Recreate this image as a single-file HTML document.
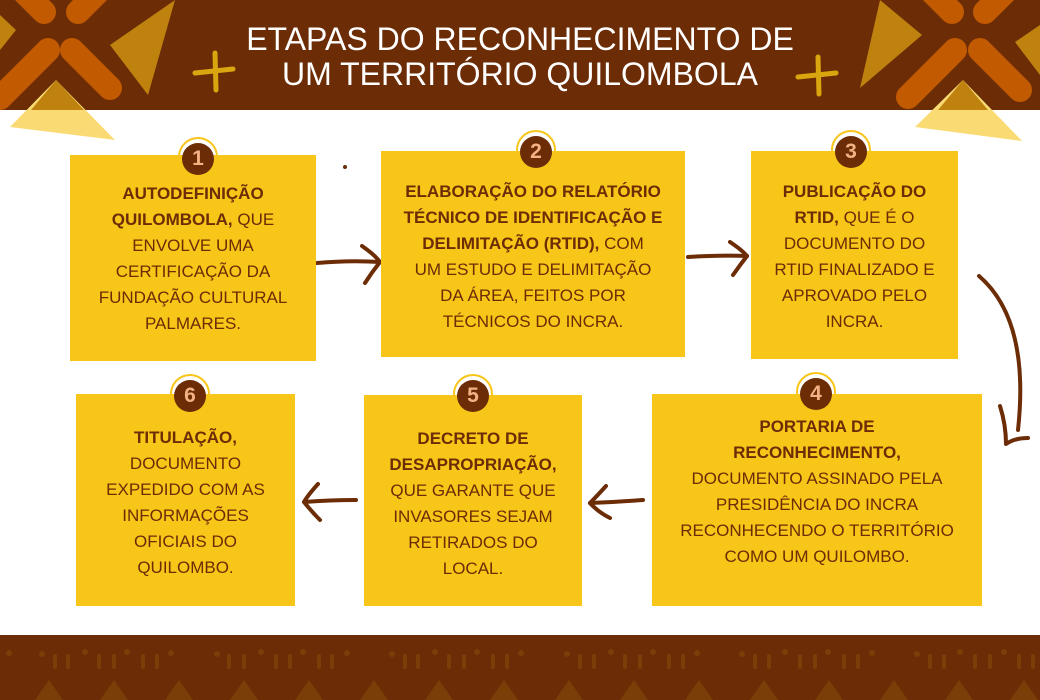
<!DOCTYPE html>
<html><head><meta charset="utf-8"><style>
body{margin:0;width:1040px;height:700px;overflow:hidden;background:#fff;font-family:"Liberation Sans",sans-serif;position:relative}
.box{position:absolute;background:#F8C519;color:#6B2C06;font-size:17px;line-height:26px;text-align:center;box-sizing:border-box;white-space:nowrap}
.box b{font-weight:bold}
.badge{position:absolute;width:32px;height:32px;border-radius:50%;background:#6B2C06;color:#F4B183;font-weight:bold;font-size:21px;line-height:32px;text-align:center;z-index:3}
.ring{position:absolute;width:40px;height:40px;border-radius:50%;border:2px solid #F8C519;box-sizing:border-box;z-index:0}
.title{position:absolute;left:0;width:1040px;top:22px;text-align:center;color:#fff;font-size:32px;line-height:35px;z-index:2}
</style></head><body>
<svg width="1040" height="700" style="position:absolute;left:0;top:0;z-index:1" xmlns="http://www.w3.org/2000/svg">
<rect x="0" y="0" width="1040" height="110" fill="#6B2C06"/>
<g stroke="#C25A02" stroke-width="24" stroke-linecap="round">
<line x1="22" y1="-10" x2="44" y2="12"/><line x1="78" y1="12" x2="100" y2="-10"/>
<line x1="48" y1="50" x2="0" y2="98"/><line x1="72" y1="50" x2="110" y2="88"/>
<line x1="930" y1="-10" x2="952" y2="12"/><line x1="985" y1="12" x2="1007" y2="-10"/>
<line x1="955" y1="50" x2="908" y2="97"/><line x1="980" y1="50" x2="1020" y2="90"/>
</g>
<g fill="#BF820F">
<path d="M175 0 L148 95 L110 45 Z"/><path d="M0 15 L16 30 L0 50 Z"/>
<path d="M880 0 L860 88 L922 35 Z"/><path d="M1040 25 L1015 42 L1040 75 Z"/>
</g>
<path d="M56 80 L10 127 L115 140 Z" fill="#FADB73"/>
<path d="M963 80 L915 127 L1022 141 Z" fill="#FADB73"/>
<path d="M56 80 L31 110 L84 110 Z" fill="#BF820F"/>
<path d="M963 80 L938 110 L988 110 Z" fill="#BF820F"/>
<g stroke="#D9A610" stroke-width="5" stroke-linecap="round">
<line x1="195" y1="73" x2="233" y2="69"/><line x1="215" y1="53" x2="216" y2="90"/>
<line x1="798" y1="77" x2="836" y2="73"/><line x1="818" y1="57" x2="819" y2="94"/>
</g>
<rect x="0" y="635" width="1040" height="65" fill="#6B2C06"/>
<g fill="#7A3F08">
<path d="M35 700 L49 680 L63 700Z"/><path d="M100 700 L114 680 L128 700Z"/><path d="M165 700 L179 680 L193 700Z"/><path d="M230 700 L244 680 L258 700Z"/><path d="M295 700 L309 680 L323 700Z"/><path d="M360 700 L374 680 L388 700Z"/><path d="M425 700 L439 680 L453 700Z"/><path d="M490 700 L504 680 L518 700Z"/><path d="M555 700 L569 680 L583 700Z"/><path d="M620 700 L634 680 L648 700Z"/><path d="M685 700 L699 680 L713 700Z"/><path d="M750 700 L764 680 L778 700Z"/><path d="M815 700 L829 680 L843 700Z"/><path d="M880 700 L894 680 L908 700Z"/><path d="M945 700 L959 680 L973 700Z"/><path d="M1010 700 L1024 680 L1038 700Z"/>
</g>
<g stroke="#7A3F08" stroke-width="4" stroke-linecap="round">
<line x1="55" y1="656" x2="55" y2="667"/><line x1="68" y1="656" x2="68" y2="667"/><line x1="99" y1="656" x2="99" y2="667"/><line x1="114" y1="656" x2="114" y2="667"/><line x1="143" y1="656" x2="143" y2="667"/><line x1="157" y1="656" x2="157" y2="667"/>
<line x1="229" y1="656" x2="229" y2="667"/><line x1="244" y1="656" x2="244" y2="667"/><line x1="276" y1="656" x2="276" y2="667"/><line x1="290" y1="656" x2="290" y2="667"/><line x1="319" y1="656" x2="319" y2="667"/><line x1="332" y1="656" x2="332" y2="667"/>
<line x1="405" y1="656" x2="405" y2="667"/><line x1="418" y1="656" x2="418" y2="667"/><line x1="449" y1="656" x2="449" y2="667"/><line x1="464" y1="656" x2="464" y2="667"/><line x1="493" y1="656" x2="493" y2="667"/><line x1="507" y1="656" x2="507" y2="667"/>
<line x1="580" y1="656" x2="580" y2="667"/><line x1="594" y1="656" x2="594" y2="667"/><line x1="625" y1="656" x2="625" y2="667"/><line x1="640" y1="656" x2="640" y2="667"/><line x1="669" y1="656" x2="669" y2="667"/><line x1="683" y1="656" x2="683" y2="667"/>
<line x1="755" y1="656" x2="755" y2="667"/><line x1="769" y1="656" x2="769" y2="667"/><line x1="800" y1="656" x2="800" y2="667"/><line x1="815" y1="656" x2="815" y2="667"/><line x1="844" y1="656" x2="844" y2="667"/><line x1="858" y1="656" x2="858" y2="667"/>
<line x1="930" y1="656" x2="930" y2="667"/><line x1="944" y1="656" x2="944" y2="667"/><line x1="975" y1="656" x2="975" y2="667"/><line x1="990" y1="656" x2="990" y2="667"/><line x1="1019" y1="656" x2="1019" y2="667"/><line x1="1033" y1="656" x2="1033" y2="667"/>
</g>
<g fill="#7A3F08">
<circle cx="9" cy="653" r="3"/><circle cx="42" cy="654" r="3"/><circle cx="85" cy="652" r="3"/><circle cx="127" cy="652" r="3"/><circle cx="171" cy="653" r="3"/>
<circle cx="217" cy="654" r="3"/><circle cx="261" cy="652" r="3"/><circle cx="303" cy="652" r="3"/><circle cx="347" cy="653" r="3"/>
<circle cx="392" cy="654" r="3"/><circle cx="435" cy="652" r="3"/><circle cx="477" cy="652" r="3"/><circle cx="521" cy="653" r="3"/>
<circle cx="567" cy="654" r="3"/><circle cx="611" cy="652" r="3"/><circle cx="653" cy="652" r="3"/><circle cx="697" cy="653" r="3"/>
<circle cx="742" cy="654" r="3"/><circle cx="785" cy="652" r="3"/><circle cx="828" cy="652" r="3"/><circle cx="872" cy="653" r="3"/>
<circle cx="917" cy="654" r="3"/><circle cx="960" cy="652" r="3"/><circle cx="1004" cy="652" r="3"/>
</g>
<circle cx="345" cy="167" r="2" fill="#6B2C06"/>
<g stroke="#6B2C06" stroke-width="4" fill="none" stroke-linecap="round" stroke-linejoin="round">
<path d="M317 263 Q350 260 380 262"/><path d="M362 246 Q375 255 380 262 Q372 272 365 283"/>
<path d="M688 257 Q720 255 747 256"/><path d="M730 242 Q742 250 747 256 Q740 265 733 275"/>
<path d="M979 276 Q1030 320 1018 430"/><path d="M1000 406 Q1006 425 1006 444 Q1015 438 1028 438"/>
<path d="M643 500 Q615 502 590 503"/><path d="M606 486 Q596 497 590 503 Q598 512 610 518"/>
<path d="M356 500 Q330 500 304 502"/><path d="M318 484 Q308 495 304 502 Q312 512 320 520"/>
</g>
</svg>
<div class="title">ETAPAS DO RECONHECIMENTO DE<br>UM TERRITÓRIO QUILOMBOLA</div>

<div class="ring" style="left:178px;top:137px"></div><div class="badge" style="left:182px;top:143px">1</div>
<div class="box" style="left:70px;top:155px;width:246px;height:206px;z-index:2;padding-top:26px"><b>AUTODEFINIÇÃO</b><br><b>QUILOMBOLA,</b> QUE<br>ENVOLVE UMA<br>CERTIFICAÇÃO DA<br>FUNDAÇÃO CULTURAL<br>PALMARES.</div>

<div class="ring" style="left:516px;top:130px"></div><div class="badge" style="left:520px;top:136px">2</div>
<div class="box" style="left:381px;top:151px;width:304px;height:206px;z-index:2;padding-top:28px"><b>ELABORAÇÃO DO RELATÓRIO</b><br><b>TÉCNICO DE IDENTIFICAÇÃO E</b><br><b>DELIMITAÇÃO (RTID),</b> COM<br>UM ESTUDO E DELIMITAÇÃO<br>DA ÁREA, FEITOS POR<br>TÉCNICOS DO INCRA.</div>

<div class="ring" style="left:831px;top:130px"></div><div class="badge" style="left:835px;top:136px">3</div>
<div class="box" style="left:751px;top:151px;width:207px;height:208px;z-index:2;padding-top:28px"><b>PUBLICAÇÃO DO</b><br><b>RTID,</b> QUE É O<br>DOCUMENTO DO<br>RTID FINALIZADO E<br>APROVADO PELO<br>INCRA.</div>

<div class="ring" style="left:796px;top:372px"></div><div class="badge" style="left:800px;top:378px">4</div>
<div class="box" style="left:652px;top:394px;width:330px;height:212px;z-index:2;padding-top:20px"><b>PORTARIA DE</b><br><b>RECONHECIMENTO,</b><br>DOCUMENTO ASSINADO PELA<br>PRESIDÊNCIA DO INCRA<br>RECONHECENDO O TERRITÓRIO<br>COMO UM QUILOMBO.</div>

<div class="ring" style="left:453px;top:374px"></div><div class="badge" style="left:457px;top:380px">5</div>
<div class="box" style="left:364px;top:395px;width:218px;height:211px;z-index:2;padding-top:31px"><b>DECRETO DE</b><br><b>DESAPROPRIAÇÃO,</b><br>QUE GARANTE QUE<br>INVASORES SEJAM<br>RETIRADOS DO<br>LOCAL.</div>

<div class="ring" style="left:170px;top:374px"></div><div class="badge" style="left:174px;top:380px">6</div>
<div class="box" style="left:76px;top:394px;width:219px;height:212px;z-index:2;padding-top:31px"><b>TITULAÇÃO,</b><br>DOCUMENTO<br>EXPEDIDO COM AS<br>INFORMAÇÕES<br>OFICIAIS DO<br>QUILOMBO.</div>
</body></html>
